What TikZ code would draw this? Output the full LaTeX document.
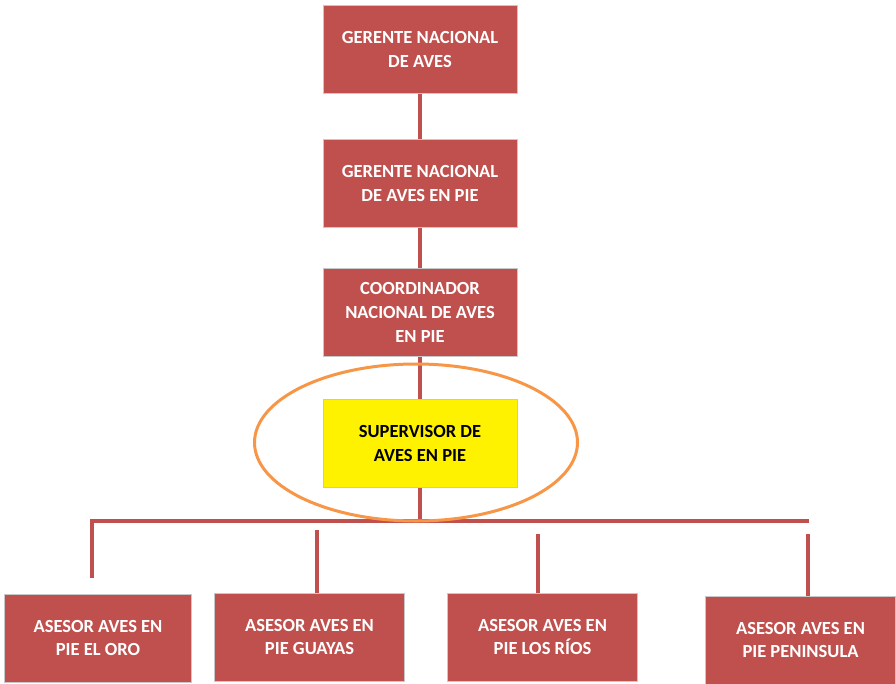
\documentclass[tikz,border=0pt]{standalone}
\usepackage{fontspec}
\setmainfont{Carlito}
\usetikzlibrary{positioning,shapes.geometric}
\definecolor{boxred}{HTML}{C0504D}
\definecolor{ringorange}{HTML}{F79646}
\definecolor{boxedge}{HTML}{C8C8C8}

\begin{document}
\begin{tikzpicture}[x=1pt, y=1pt, node distance = 42pt,
  every node/.style = {rectangle, font = \bfseries\fontsize{18.5}{24}\selectfont,
    draw=boxedge, line width=1pt, fill=boxred, text=white,
    align = center, minimum width = 194pt, minimum height = 88pt, inner sep=0pt},
  low/.style = {minimum width = 190pt, font = \bfseries\fontsize{18.5}{23}\selectfont},
  link/.style = {draw=boxred, line width=4pt}]
  \useasboundingbox (0,0) rectangle (896,-684);

  \node (GNA) at (420,-49.5)            {GERENTE NACIONAL\\DE AVES};
  \node (GNAP)   [below = 45pt of GNA]  {GERENTE NACIONAL\\DE AVES EN PIE};
  \node (CNAP)   [below = 40pt of GNAP] {COORDINADOR\\NACIONAL DE AVES\\EN PIE};
  \node (SUP)    [below = 42pt of CNAP, fill=yellow, text=black] {SUPERVISOR DE\\AVES EN PIE};

  \node (ORO) [low, minimum width=187pt] at (98,-638) {ASESOR AVES EN\\PIE EL ORO};
  \node (GUA) [low, right = 22pt of ORO, yshift=1pt]  {ASESOR AVES EN\\PIE GUAYAS};
  \node (RIO) [low, right = 42pt of GUA]              {ASESOR AVES EN\\PIE LOS RÍOS};
  \node (PEN) [low, right = 67pt of RIO, yshift=-3pt] {ASESOR AVES EN\\PIE PENINSULA};

  \coordinate (barR)   at (809,-521);
  \coordinate (oroTop) at (92,-578);

  \draw [link]
    (GNA) -- (GNAP) -- (CNAP) -- (SUP)
    (SUP.south) -- (SUP.south |- barR)
    (oroTop) |- (barR);
  \draw [link] ([xshift=7pt]GUA.north) -- ++(0,63);
  \draw [link] ([xshift=-4.5pt]RIO.north) -- ++(0,59);
  \draw [link] ([xshift=7pt]PEN.north) -- ++(0,62);

  \node (ring) [ellipse, draw=ringorange, line width=3pt, fill=none,
    minimum width=323pt, minimum height=157pt] at ([xshift=-4pt,yshift=1pt]SUP.center) {};

\end{tikzpicture}
\end{document}
